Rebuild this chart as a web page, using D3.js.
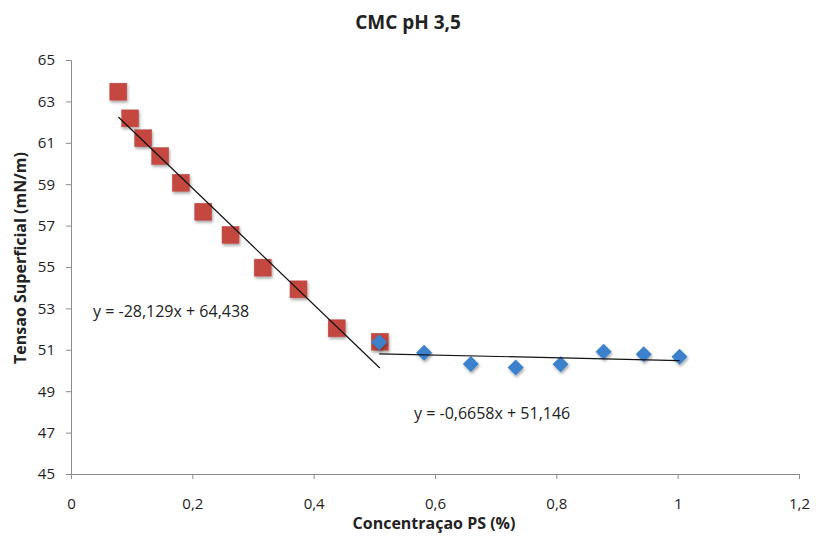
<!DOCTYPE html>
<html lang="pt">
<head>
<meta charset="UTF-8">
<title>CMC pH 3,5</title>
<script src="https://d3js.org/d3.v7.min.js"></script>
<style>
  body { margin: 0; background: #fff; }
  text { font-family: "Open Sans", "Noto Sans", sans-serif; fill: #222; }
</style>
</head>
<body>
<svg width="816" height="538"></svg>
<script>
    // acima da CMC (quadrados vermelhos)
    let redX = [0.078, 0.0975, 0.119, 0.147, 0.181, 0.218, 0.263, 0.316, 0.375, 0.438, 0.509]
    let redY = [63.47, 62.18, 61.22, 60.36, 59.07, 57.67, 56.55, 54.97, 53.92, 52.04, 51.39]
    // abaixo da CMC (losangos azuis)
    let blueX = [0.508, 0.582, 0.659, 0.733, 0.807, 0.878, 0.944, 1.003]
    let blueY = [51.36, 50.86, 50.31, 50.15, 50.30, 50.91, 50.78, 50.67]
    // linhas de tendencia
    let trendRed = {a: -28.129, b: 64.438, x0: 0.078, x1: 0.509, label: "y = -28,129x + 64,438"}
    let trendBlue = {a: -0.6658, b: 51.146, x0: 0.508, x1: 1.003, label: "y = -0,6658x + 51,146"}
    let xTicks = [0, 0.2, 0.4, 0.6, 0.8, 1, 1.2]
    let yTicks = [45, 47, 49, 51, 53, 55, 57, 59, 61, 63, 65]

    let svg = d3.select('svg')
    let fmt = function(d) { return String(d).replace('.', ',') }

    let x = d3.scaleLinear().domain([0, 1.2]).range([71, 799])
    let y = d3.scaleLinear().domain([45, 65]).range([474, 60])

    let defs = svg.append('defs')
    let f = defs.append('filter').attr('id', 'shadow').attr('x', '-50%').attr('y', '-50%').attr('width', '200%').attr('height', '200%')
    f.append('feGaussianBlur').attr('in', 'SourceAlpha').attr('stdDeviation', 1.5)
    f.append('feOffset').attr('dx', 1).attr('dy', 1.5).attr('result', 'b')
    f.append('feComponentTransfer').append('feFuncA').attr('type', 'linear').attr('slope', 0.35)
    let m = f.append('feMerge')
    m.append('feMergeNode')
    m.append('feMergeNode').attr('in', 'SourceGraphic')

    let xAxis = svg.append('g')
        .attr('transform', 'translate(0,474)')
        .call(d3.axisBottom(x).tickValues(xTicks).tickFormat(fmt).tickSize(5).tickPadding(19))
    let yAxis = svg.append('g')
        .attr('transform', 'translate(71,0)')
        .call(d3.axisLeft(y).tickValues(yTicks).tickFormat(fmt).tickSize(5).tickPadding(11))
    svg.selectAll('.domain, .tick line').attr('stroke', '#8c8c8c')
    svg.selectAll('.tick text').style('font-size', '15px').attr('fill', '#444')

    svg.append('g').selectAll('rect')
        .data(redX)
        .enter()
        .append('rect')
        .attr('x', function(d) { return x(d) - 8.5 })
        .attr('y', function(d, i) { return y(redY[i]) - 8.5 })
        .attr('width', 17)
        .attr('height', 17)
        .attr('fill', '#c4463f')
        .attr('stroke', '#b8504a')
        .attr('stroke-width', 0.5)
        .attr('filter', 'url(#shadow)')

    svg.append('g').selectAll('path')
        .data(blueX)
        .enter()
        .append('path')
        .attr('d', 'M0,-8L8,0L0,8L-8,0Z')
        .attr('transform', function(d, i) { return 'translate(' + x(d) + ',' + y(blueY[i]) + ')' })
        .attr('fill', '#3b81cc')
        .attr('filter', 'url(#shadow)')

    ;[trendRed, trendBlue].forEach(function(t) {
        svg.append('line')
            .attr('x1', x(t.x0)).attr('y1', y(t.a * t.x0 + t.b))
            .attr('x2', x(t.x1)).attr('y2', y(t.a * t.x1 + t.b))
            .attr('stroke', '#111')
            .attr('stroke-width', 1.2)
    })

    svg.append('text').attr('x', 93).attr('y', 317).style('font-size', '16px').text(trendRed.label)
    svg.append('text').attr('x', 414).attr('y', 419).style('font-size', '16px').text(trendBlue.label)

    svg.append('text').attr('x', 408).attr('y', 29).attr('text-anchor', 'middle')
        .style('font-size', '19px').style('font-weight', 'bold').text('CMC pH 3,5')
    svg.append('text').attr('x', 434).attr('y', 529).attr('text-anchor', 'middle')
        .style('font-size', '16px').style('font-weight', 'bold').text('Concentraçao PS (%)')
    svg.append('text').attr('transform', 'translate(26,258) rotate(-90)').attr('text-anchor', 'middle')
        .style('font-size', '16px').style('font-weight', 'bold').text('Tensao Superficial (mN/m)')
</script>
</body>
</html>
